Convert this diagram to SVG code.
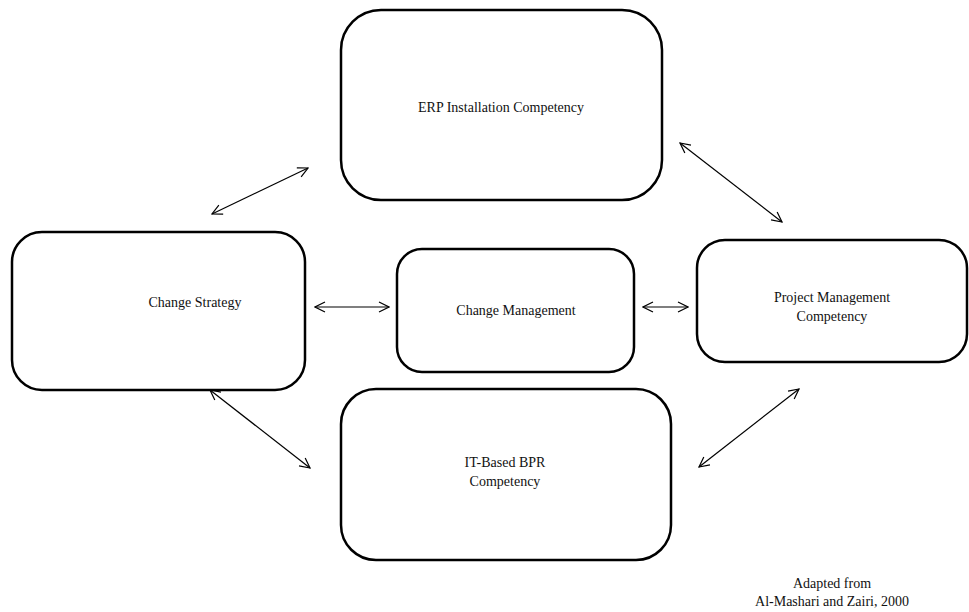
<svg xmlns="http://www.w3.org/2000/svg" width="969" height="612" viewBox="0 0 969 612">
<style>
.box{fill:#fff;stroke:#000;stroke-width:2.5}
.t{font-family:'Liberation Serif','DejaVu Serif',serif;font-size:14px;fill:#111;text-anchor:middle}
.c{stroke:#000;stroke-width:1.2;fill:none;marker-start:url(#ah);marker-end:url(#ah)}
</style>
<defs>
<marker id="ah" viewBox="0 0 12 12" refX="11" refY="6" markerWidth="12" markerHeight="12" markerUnits="userSpaceOnUse" orient="auto-start-reverse">
<path d="M1,1 L11,6 L1,11" fill="none" stroke="#000" stroke-width="1.2"/>
</marker>
</defs>
<rect width="969" height="612" fill="#fff"/>
<g id="erp"><rect class="box" x="341" y="10" width="321" height="190" rx="40"/><text class="t" x="501" y="112">ERP Installation Competency</text></g>
<g id="cs"><rect class="box" x="12" y="232" width="293" height="158" rx="30"/><text class="t" x="195" y="307">Change Strategy</text></g>
<g id="cm"><rect class="box" x="397" y="249" width="237" height="123" rx="25"/><text class="t" x="516" y="315">Change Management</text></g>
<g id="pm"><rect class="box" x="697" y="240" width="270" height="122" rx="28"/><text class="t" x="832" y="302">Project Management</text><text class="t" x="832" y="321">Competency</text></g>
<g id="it"><rect class="box" x="341" y="389" width="330" height="171" rx="35"/><text class="t" x="505" y="467">IT-Based BPR</text><text class="t" x="505" y="486">Competency</text></g>
<g id="connectors">
<line class="c" x1="212" y1="214" x2="308" y2="168"/>
<line class="c" x1="315" y1="307" x2="389" y2="307"/>
<line class="c" x1="643" y1="307" x2="688" y2="307"/>
<line class="c" x1="680" y1="143" x2="782" y2="222"/>
<line class="c" x1="210" y1="390" x2="310" y2="468"/>
<line class="c" x1="699" y1="467" x2="799" y2="389"/>
</g>
<g id="note"><text class="t" x="832" y="588">Adapted from</text><text class="t" x="832" y="606">Al-Mashari and Zairi, 2000</text></g>
</svg>
